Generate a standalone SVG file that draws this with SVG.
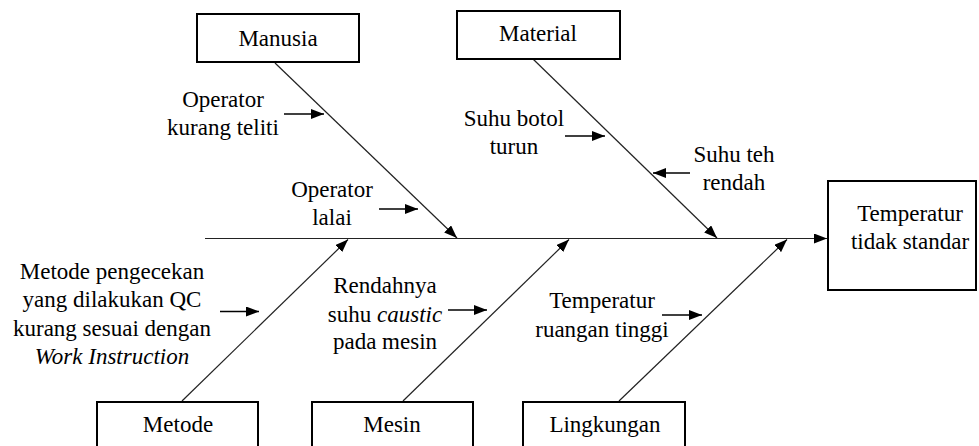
<svg xmlns="http://www.w3.org/2000/svg" width="979" height="446" viewBox="0 0 979 446">
<defs>
<marker id="ah" markerWidth="13" markerHeight="10" refX="13" refY="5" orient="auto" markerUnits="userSpaceOnUse">
<path d="M0,0 L13,5 L0,10 z" fill="#000"/>
</marker>
<style>
text{font-size:23px;fill:#000;text-anchor:middle}
.box{fill:#fff;stroke:#000;stroke-width:2}
.bone{stroke:#222;stroke-width:1.2;fill:none}
.sub{stroke:#000;stroke-width:1.3;fill:none}
.it{font-style:italic}
</style>
</defs>
<rect width="979" height="446" fill="#fff"/>
<g id="connectors">
<line class="bone" x1="205" y1="238.5" x2="827" y2="238.5" stroke="#444" marker-end="url(#ah)"/>
<line class="bone" x1="275" y1="63" x2="457" y2="238" marker-end="url(#ah)"/>
<line class="bone" x1="533" y1="59" x2="717" y2="238" marker-end="url(#ah)"/>
<line class="bone" x1="182" y1="401" x2="348" y2="239.5" marker-end="url(#ah)"/>
<line class="bone" x1="403" y1="401" x2="569" y2="239.5" marker-end="url(#ah)"/>
<line class="bone" x1="619" y1="401" x2="787" y2="239.5" marker-end="url(#ah)"/>
<line class="sub" x1="284" y1="114" x2="324" y2="114" marker-end="url(#ah)"/>
<line class="sub" x1="379" y1="209" x2="418" y2="209" marker-end="url(#ah)"/>
<line class="sub" x1="565" y1="136" x2="605" y2="136" marker-end="url(#ah)"/>
<line class="sub" x1="690" y1="173" x2="653" y2="173" marker-end="url(#ah)"/>
<line class="sub" x1="220" y1="311.5" x2="259" y2="311.5" marker-end="url(#ah)"/>
<line class="sub" x1="448" y1="310" x2="487" y2="310" marker-end="url(#ah)"/>
<line class="sub" x1="662" y1="315" x2="702" y2="315" marker-end="url(#ah)"/>
</g>
<g font-family="'Liberation Serif', 'Times New Roman', 'DejaVu Serif', serif">
<g id="effect">
<rect class="box" x="828" y="181" width="148" height="109"/>
<text x="910" y="221">Temperatur</text>
<text x="910" y="249">tidak standar</text>
</g>
<g id="manusia">
<rect class="box" x="197" y="14" width="162" height="48"/>
<text x="278" y="46">Manusia</text>
</g>
<g id="material">
<rect class="box" x="457" y="11" width="163" height="48"/>
<text x="538" y="41">Material</text>
</g>
<g id="metode">
<rect class="box" x="97" y="402" width="161" height="60"/>
<text x="178" y="432">Metode</text>
</g>
<g id="mesin">
<rect class="box" x="312" y="402" width="161" height="60"/>
<text x="392" y="432">Mesin</text>
</g>
<g id="lingkungan">
<rect class="box" x="523" y="402" width="162" height="60"/>
<text x="605" y="432">Lingkungan</text>
</g>
<g id="cause-operator-kurang-teliti">
<text x="223" y="107">Operator</text>
<text x="223" y="135">kurang teliti</text>
</g>
<g id="cause-operator-lalai">
<text x="332" y="197">Operator</text>
<text x="332" y="225">lalai</text>
</g>
<g id="cause-suhu-botol">
<text x="514" y="126">Suhu botol</text>
<text x="514" y="154">turun</text>
</g>
<g id="cause-suhu-teh">
<text x="734" y="162">Suhu teh</text>
<text x="734" y="190">rendah</text>
</g>
<g id="cause-metode">
<text x="112" y="279">Metode pengecekan</text>
<text x="112" y="307">yang dilakukan QC</text>
<text x="112" y="336">kurang sesuai dengan</text>
<text x="112" y="364" class="it">Work Instruction</text>
</g>
<g id="cause-caustic">
<text x="385" y="293">Rendahnya</text>
<text x="385" y="322">suhu <tspan class="it">caustic</tspan></text>
<text x="385" y="349">pada mesin</text>
</g>
<g id="cause-ruangan">
<text x="602" y="308">Temperatur</text>
<text x="602" y="337">ruangan tinggi</text>
</g>
</g>
</svg>
